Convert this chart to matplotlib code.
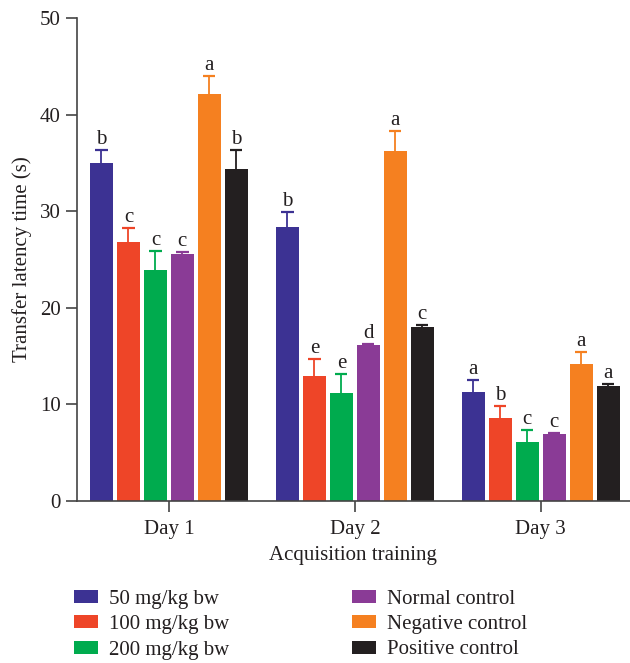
import matplotlib
matplotlib.use("Agg")
import matplotlib.pyplot as plt
import numpy as np

days = ["Day 1", "Day 2", "Day 3"]
groups = ["50 mg/kg bw", "100 mg/kg bw", "200 mg/kg bw",
          "Normal control", "Negative control", "Positive control"]
colors = ["#3C3293", "#EE4528", "#00AB4E", "#8A3B96", "#F58020", "#231F20"]

# values per group, per day
means = [
    [35.0, 28.4, 11.3],
    [26.8, 12.9, 8.6],
    [23.9, 11.2, 6.1],
    [25.6, 16.1, 6.9],
    [42.1, 36.2, 14.15],
    [34.4, 18.0, 11.9],
]
errs = [
    [1.3, 1.5, 1.2],
    [1.5, 1.8, 1.2],
    [2.0, 1.9, 1.25],
    [0.2, 0.15, 0.17],
    [1.9, 2.1, 1.3],
    [1.9, 0.2, 0.25],
]
letters = [
    ["b", "b", "a"],
    ["c", "e", "b"],
    ["c", "e", "c"],
    ["c", "d", "c"],
    ["a", "a", "a"],
    ["b", "c", "a"],
]

plt.rcParams['font.family'] = ['Liberation Serif', 'DejaVu Serif']
FS = 15

fig = plt.figure(figsize=(6.3, 6.63), dpi=100)
ax = fig.add_axes([0.122, 0.2443, 0.878, 0.7287])

x = np.arange(len(days))
step = 0.145
width = 0.124
cap = 0.033
handles = []
for i, g in enumerate(groups):
    pos = x + (i - 2.5) * step
    m = np.array(means[i])
    e = np.array(errs[i])
    b = ax.bar(pos, m, width, color=colors[i], label=g, zorder=2)
    handles.append(b)
    ax.vlines(pos, m, m + e, colors=colors[i], linewidth=1.3, zorder=1)
    ax.hlines(m + e, pos - cap, pos + cap, colors=colors[i], linewidth=1.6, zorder=1)
    for j in range(len(days)):
        ax.text(pos[j], m[j] + e[j] + 0.1, letters[i][j],
                ha='center', va='bottom', fontsize=FS, color='#231F20')

ax.set_xlim(-0.495, 2.48)
ax.set_ylim(0, 50)
ax.set_yticks([0, 10, 20, 30, 40, 50])
ax.set_xticks(x)
ax.set_xticklabels(days)
ax.spines['top'].set_visible(False)
ax.spines['right'].set_visible(False)
for s in ['left', 'bottom']:
    ax.spines[s].set_color('#444444')
    ax.spines[s].set_linewidth(1.2)
ax.tick_params(axis='both', direction='out', length=8, width=1.2, colors='#444444',
               labelsize=FS, labelcolor='#231F20')
ax.tick_params(axis='x', pad=6)
ax.set_ylabel("Transfer latency time (s)", fontsize=FS, color='#231F20', labelpad=6)
ax.set_xlabel("Acquisition training", fontsize=FS, color='#231F20', labelpad=5)

common = dict(frameon=False, fontsize=FS, handlelength=1.15, handleheight=0.58,
              handletextpad=0.55, labelspacing=0.3, borderpad=0, borderaxespad=0,
              loc='upper left')
leg1 = fig.legend(handles[:3], groups[:3], bbox_to_anchor=(74/630, 1 - 590/663), **common)
leg2 = fig.legend(handles[3:], groups[3:], bbox_to_anchor=(352/630, 1 - 590/663), **common)
for leg in (leg1, leg2):
    for t in leg.get_texts():
        t.set_color('#231F20')

fig.savefig("out.png", dpi=100)
